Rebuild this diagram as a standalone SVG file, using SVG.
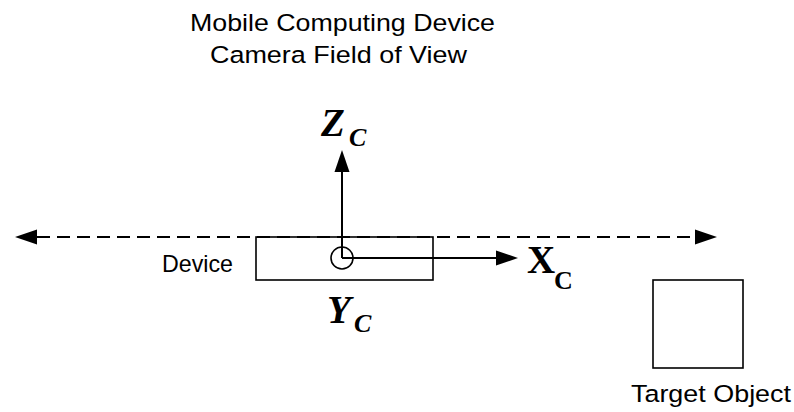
<svg xmlns="http://www.w3.org/2000/svg" width="794" height="412" viewBox="0 0 794 412">
  <style>
    .lbl { font-family: "Liberation Sans", Arial, sans-serif; font-size: 24.5px; fill: #000; }
    .math { font-family: "Liberation Serif", "Times New Roman", serif; font-weight: bold; fill: #000; }
    .big { font-size: 39px; }
    .sub { font-size: 26px; }
    .it { font-style: italic; }
    .box { fill: none; stroke: #000; stroke-width: 1.6; }
    .ln { fill: none; stroke: #000; stroke-width: 2; }
    .dash { stroke-dasharray: 13 7; }
  </style>
  <defs>
    <marker id="arr" markerUnits="userSpaceOnUse" markerWidth="23" markerHeight="16" refX="0" refY="7.5" orient="auto-start-reverse" overflow="visible">
      <path d="M0,0 L22,7.5 L0,15 Z" fill="#000" stroke="none"/>
    </marker>
  </defs>
  <rect width="794" height="412" fill="#fff"/>

  <g id="title">
    <text class="lbl" x="190" y="31" textLength="305" lengthAdjust="spacingAndGlyphs">Mobile Computing Device</text>
    <text class="lbl" x="210" y="62.5" textLength="257" lengthAdjust="spacingAndGlyphs">Camera Field of View</text>
  </g>

  <g id="device">
    <rect class="box" x="256" y="237" width="177" height="43"/>
    <text class="lbl" x="162" y="272" textLength="71" lengthAdjust="spacingAndGlyphs">Device</text>
    <circle class="box" cx="342" cy="258" r="11"/>
  </g>

  <g id="target">
    <rect class="box" x="653" y="280" width="90" height="88"/>
    <text class="lbl" x="631" y="402" textLength="160" lengthAdjust="spacingAndGlyphs">Target Object</text>
  </g>

  <g id="connectors">
    <line class="ln dash" x1="37" y1="237" x2="695" y2="237" marker-start="url(#arr)" marker-end="url(#arr)"/>
    <line class="ln" x1="342" y1="258" x2="342" y2="172" marker-end="url(#arr)"/>
    <line class="ln" x1="342" y1="258" x2="496" y2="258" marker-end="url(#arr)"/>
  </g>

  <g id="axis-labels">
    <text class="math big it" x="321" y="136">Z</text>
    <text class="math sub it" x="349" y="146">C</text>
    <text class="math big" x="527" y="273">X</text>
    <text class="math sub" x="554" y="289">C</text>
    <text class="math big it" x="327" y="323">Y</text>
    <text class="math sub it" x="354" y="332">C</text>
  </g>
</svg>
